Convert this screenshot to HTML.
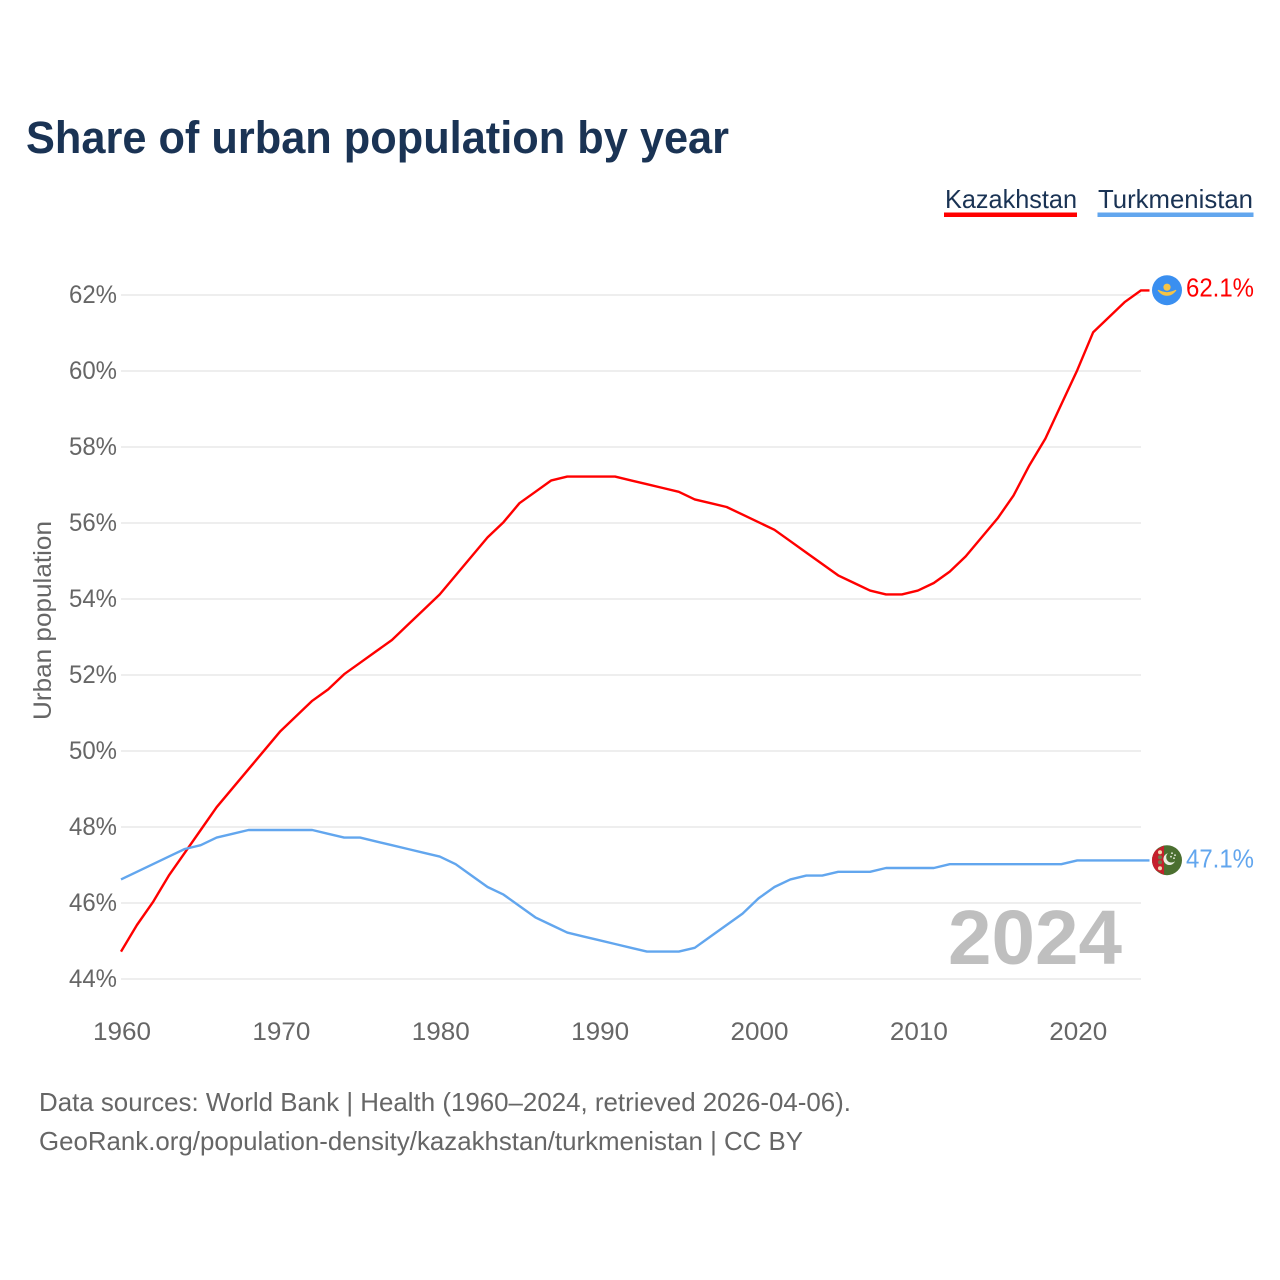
<!DOCTYPE html>
<html lang="en">
<head>
<meta charset="utf-8">
<title>Share of urban population by year</title>
<style>
html,body{margin:0;padding:0;background:#fff;}
svg{display:block;font-family:"Liberation Sans",sans-serif;}
</style>
</head>
<body>
<svg id="chart" width="1280" height="1280" viewBox="0 0 1280 1280" xmlns="http://www.w3.org/2000/svg">
  <rect x="0" y="0" width="1280" height="1280" fill="#fff"/>
  <text x="26" y="153" font-size="45" font-weight="700" fill="#1a3354" textLength="703" lengthAdjust="spacingAndGlyphs">Share of urban population by year</text>

  <g>
    <text x="945" y="208" font-size="26" fill="#1a3354" textLength="132" lengthAdjust="spacingAndGlyphs">Kazakhstan</text>
    <rect x="944" y="212.5" width="133" height="4.5" fill="#ff0000"/>
  </g>
  <g>
    <text x="1098" y="208" font-size="26" fill="#1a3354" textLength="155" lengthAdjust="spacingAndGlyphs">Turkmenistan</text>
    <rect x="1097.5" y="212.5" width="156" height="4.5" fill="#62a6ee"/>
  </g>

  <g id="grid"></g>
  <g id="yticks"></g>
  <g id="xticks"></g>

  <text transform="translate(51,720) rotate(-90)" font-size="25" fill="#666" textLength="199" lengthAdjust="spacingAndGlyphs">Urban population</text>

  <text x="948" y="964" font-size="77" font-weight="700" fill="#bfbfbf" textLength="174" lengthAdjust="spacingAndGlyphs">2024</text>

  <path id="line-kz" fill="none" stroke="#ff0000" stroke-width="2.4" stroke-linejoin="round"/>
  <path id="line-tm" fill="none" stroke="#62a6ee" stroke-width="2.4" stroke-linejoin="round"/>

  <g id="flag-kz">
    <circle cx="0" cy="0" r="15" fill="#3a8ff0"/>
    <circle cx="0" cy="-3" r="3.6" fill="#f6c445"/>
    <path d="M-9,0 Q-5,5 -1,5 L1,5 Q5,5 9,0 Q5,2 0,2.5 Q-5,2 -9,0Z" fill="#f6c445" stroke="#f6c445" stroke-width="1"/>
  </g>
  <g id="flag-tm">
    <circle cx="0" cy="0" r="15" fill="#4b6f30"/>
    <path d="M-11,-10.2 A15,15 0 0 0 -11,10.2 L-3,14.7 L-3,-14.7Z" fill="#c5202c"/>
    <circle cx="-7" cy="-8" r="2" fill="#f2d9b0"/>
    <circle cx="-7" cy="-3" r="2" fill="#6d7a4a"/>
    <circle cx="-7" cy="2" r="2" fill="#6d7a4a"/>
    <circle cx="-7" cy="8" r="2" fill="#f2d9b0"/>
    <path d="M1,-7 A6,6 0 1 0 8,1 A5,5 0 1 1 1,-7Z" fill="#e8eee0"/>
    <circle cx="5" cy="-7" r="0.9" fill="#e8eee0"/>
    <circle cx="8" cy="-5" r="0.9" fill="#e8eee0"/>
    <circle cx="4" cy="-3.5" r="0.9" fill="#e8eee0"/>
    <circle cx="7" cy="-2" r="0.9" fill="#e8eee0"/>
  </g>

  <text id="value-kz" x="1186" font-size="26" fill="#ff0000" textLength="68" lengthAdjust="spacingAndGlyphs"></text>
  <text id="value-tm" x="1186" font-size="26" fill="#62a6ee" textLength="68" lengthAdjust="spacingAndGlyphs"></text>

  <text x="39" y="1111" font-size="26" fill="#666" textLength="812" lengthAdjust="spacingAndGlyphs">Data sources: World Bank | Health (1960–2024, retrieved 2026-04-06).</text>
  <text x="39" y="1150" font-size="26" fill="#666" textLength="764" lengthAdjust="spacingAndGlyphs">GeoRank.org/population-density/kazakhstan/turkmenistan | CC BY</text>
</svg>
<script>
const startYear = 1960;
const kazakhstanValues = [44.7,45.4,46.0,46.7,47.3,47.9,48.5,49.0,49.5,50.0,50.5,50.9,51.3,51.6,52.0,52.3,52.6,52.9,53.3,53.7,54.1,54.6,55.1,55.6,56.0,56.5,56.8,57.1,57.2,57.2,57.2,57.2,57.1,57.0,56.9,56.8,56.6,56.5,56.4,56.2,56.0,55.8,55.5,55.2,54.9,54.6,54.4,54.2,54.1,54.1,54.2,54.4,54.7,55.1,55.6,56.1,56.7,57.5,58.2,59.1,60.0,61.0,61.4,61.8,62.1];
const turkmenistanValues = [46.6,46.8,47.0,47.2,47.4,47.5,47.7,47.8,47.9,47.9,47.9,47.9,47.9,47.8,47.7,47.7,47.6,47.5,47.4,47.3,47.2,47.0,46.7,46.4,46.2,45.9,45.6,45.4,45.2,45.1,45.0,44.9,44.8,44.7,44.7,44.7,44.8,45.1,45.4,45.7,46.1,46.4,46.6,46.7,46.7,46.8,46.8,46.8,46.9,46.9,46.9,46.9,47.0,47.0,47.0,47.0,47.0,47.0,47.0,47.0,47.1,47.1,47.1,47.1,47.1];
const yTickValues = [44,46,48,50,52,54,56,58,60,62];
const xTickYears = [1960,1970,1980,1990,2000,2010,2020];

const NS = 'http://www.w3.org/2000/svg';
function xScale(year){ return 121 + (year - 1960) * (1020 / 64); }
function yScale(v){ return 979 - (v - 44) * 38; }
function yLine(v){ return yScale(v) - 0.8; }

function linePath(values){
  let d = '';
  values.forEach(function(v, i){
    d += (i ? 'L' : 'M') + xScale(startYear + i).toFixed(2) + ',' + yLine(v).toFixed(2);
  });
  const last = values[values.length - 1];
  d += 'L1149.5,' + yLine(last).toFixed(2);
  return d;
}

const grid = document.getElementById('grid');
const yticks = document.getElementById('yticks');
yTickValues.forEach(function(v){
  const line = document.createElementNS(NS, 'line');
  
  
  line.setAttribute('x1', 121);
  line.setAttribute('x2', 1141);
  line.setAttribute('y1', yScale(v));
  line.setAttribute('y2', yScale(v));
  line.setAttribute('stroke', '#e9e9e9');
  line.setAttribute('stroke-width', '1.4');
  grid.appendChild(line);

  const label = document.createElementNS(NS, 'text');
  
  
  label.setAttribute('x', 69);
  label.setAttribute('y', yScale(v) + 8);
  label.setAttribute('font-size', '25');
  label.setAttribute('fill', '#666');
  label.setAttribute('textLength', '48');
  label.setAttribute('lengthAdjust', 'spacingAndGlyphs');
  label.textContent = v + '%';
  yticks.appendChild(label);
});

const xticks = document.getElementById('xticks');
xTickYears.forEach(function(y){
  const label = document.createElementNS(NS, 'text');
  
  
  label.setAttribute('x', xScale(y) + 1);
  label.setAttribute('y', 1040);
  label.setAttribute('text-anchor', 'middle');
  label.setAttribute('font-size', '25');
  label.setAttribute('fill', '#666');
  label.setAttribute('textLength', '58');
  label.setAttribute('lengthAdjust', 'spacingAndGlyphs');
  label.textContent = y;
  xticks.appendChild(label);
});

document.getElementById('line-kz').setAttribute('d', linePath(kazakhstanValues));
document.getElementById('line-tm').setAttribute('d', linePath(turkmenistanValues));

const kzLast = kazakhstanValues[kazakhstanValues.length - 1];
const tmLast = turkmenistanValues[turkmenistanValues.length - 1];
document.getElementById('flag-kz').setAttribute('transform', 'translate(1167,' + (yLine(kzLast) - 0.2) + ')');
document.getElementById('flag-tm').setAttribute('transform', 'translate(1167,' + (yLine(tmLast) - 0.2) + ')');
const kzValue = document.getElementById('value-kz');
kzValue.setAttribute('y', yLine(kzLast) + 6);
kzValue.textContent = kzLast.toFixed(1) + '%';
const tmValue = document.getElementById('value-tm');
tmValue.setAttribute('y', yLine(tmLast) + 7);
tmValue.textContent = tmLast.toFixed(1) + '%';
</script>
</body>
</html>
